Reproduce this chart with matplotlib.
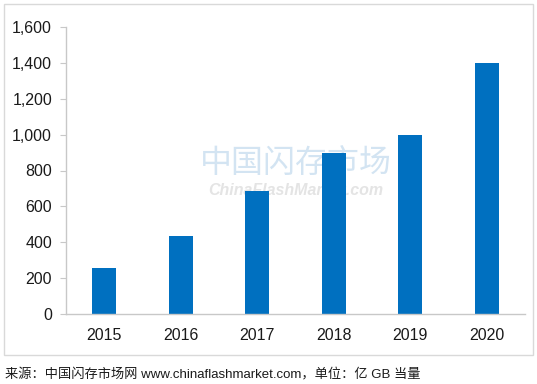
import matplotlib
matplotlib.use('Agg')
import matplotlib.pyplot as plt
import matplotlib.patches as mpatches

# data
years = ['2015', '2016', '2017', '2018', '2019', '2020']
values = [258, 435, 685, 898, 1000, 1398]
y_ticks = [0, 200, 400, 600, 800, 1000, 1200, 1400, 1600]

BLUE = '#0070c0'
AXIS_GRAY = '#c8c8c8'
TEXT = '#1a1a1a'

plt.rcParams['font.family'] = ['Liberation Sans', 'DejaVu Sans']

fig = plt.figure(figsize=(5.37, 3.84), dpi=100)
fig.patch.set_facecolor('white')

# outer frame
fig.patches.append(mpatches.Rectangle((4 / 537, 1 - 355 / 384), 529 / 537, 351 / 384,
                                      transform=fig.transFigure, fill=False,
                                      edgecolor='#d9d9d9', linewidth=1))

ax = fig.add_axes([66 / 537, 1 - 314 / 384, 459 / 537, 287 / 384])

# watermark
ax.text(0.5, 0.525, '中国闪存市场', transform=ax.transAxes, ha='center', va='center',
        fontsize=23, color='#d3e4f2', family=['Noto Sans CJK SC'], zorder=0)
ax.text(0.5, 0.43, 'ChinaFlashMarket.com', transform=ax.transAxes, ha='center', va='center',
        fontsize=11.5, color='#e4e4e4', style='italic', fontweight='bold', zorder=0)

x = range(len(years))
ax.bar(x, values, width=0.31, color=BLUE, zorder=2)

ax.set_xlim(-0.5, len(years) - 0.5)
ax.set_ylim(0, 1600)
ax.set_yticks(y_ticks)
ax.set_yticklabels([f'{v:,}' for v in y_ticks])
ax.set_xticks(list(x))
ax.set_xticklabels(years)

for s in ['top', 'right']:
    ax.spines[s].set_visible(False)
for s in ['left', 'bottom']:
    ax.spines[s].set_color(AXIS_GRAY)
    ax.spines[s].set_linewidth(1)

ax.tick_params(axis='y', length=4, color=AXIS_GRAY, labelsize=11.5, labelcolor=TEXT, pad=6)
ax.tick_params(axis='x', length=0, labelsize=11.5, labelcolor=TEXT, pad=10)

fig.text(5 / 537, 1 - 375 / 384, '来源：中国闪存市场网 www.chinaflashmarket.com，单位：亿 GB 当量',
         ha='left', va='center', fontsize=9.5, color=TEXT,
         family=['Liberation Sans', 'Noto Sans CJK SC'])

fig.savefig('out.png', dpi=100, facecolor='white')
